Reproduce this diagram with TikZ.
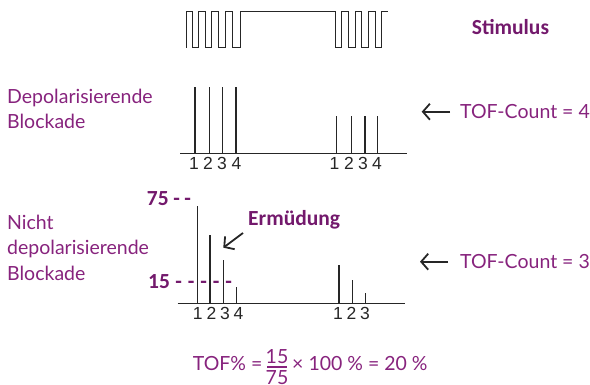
\documentclass[tikz,border=0pt]{standalone}
\usepackage{fontspec}
\setmainfont{Lato}
\newfontfamily\boldf{Carlito}
\newfontfamily\digitf{Liberation Sans}
\usetikzlibrary{arrows.meta}
\definecolor{purp}{RGB}{135,35,125}
\definecolor{dpurp}{RGB}{115,25,108}
\newcommand{\dsh}[1]{\hspace{#1}-}
\begin{document}
\begin{tikzpicture}[x=1pt,y=-1pt,
  bar/.style={line width=1.2pt, black!85},
  axis/.style={line width=1pt, black!85},
  wave/.style={line width=1pt, black!85, line join=miter},
  lbl/.style={text=purp, font=\fontsize{19.5}{24}\selectfont, inner sep=0pt, anchor=base west},
  blbl/.style={text=dpurp, font=\boldf\bfseries\fontsize{21.5}{26}\selectfont, inner sep=0pt, anchor=base west},
  num/.style={font=\digitf\fontsize{17.5}{20}\selectfont, inner sep=0pt, text=black!85, anchor=north},
  pointer/.style={-{Straight Barb[length=7pt,width=16pt,line width=1.8pt]}, line width=1.8pt, black!85}]
\useasboundingbox (0,0) rectangle (590,385);

% stimulus wave
\draw[wave] (186.7,48) -- (186.7,12) -- (192.7,12) -- (192.7,48) -- (198.3,48) -- (198.3,12) -- (205,12) -- (205,48) -- (211.7,48) -- (211.7,12) -- (218.3,12) -- (218.3,48) -- (225.7,48) -- (225.7,12) -- (232.7,12) -- (232.7,48) -- (240,48) -- (240,12) -- (335,12) -- (335,48) -- (341.7,48) -- (341.7,12) -- (348.3,12) -- (348.3,48) -- (355,48) -- (355,12) -- (361.7,12) -- (361.7,48) -- (368.3,48) -- (368.3,12) -- (375,12) -- (375,48) -- (381.7,48) -- (381.7,12) -- (388.3,12);
\node[blbl] (stim) at (471.7,34.3) {Stimulus};

% panel 1
\node[lbl] (dep1) at (7,104) {Depolarisierende};
\node[lbl] (blk1) at (7,129) {Blockade};
\draw[axis] (180,154) -- (406.7,154);
\foreach \x/\t in {195/86.7,209.3/86.7,222.7/86.7,236/86.7,336.7/115.7,351.7/115.7,365/115.7,377.7/115.7}
  \draw[bar] (\x,154) -- (\x,\t);
\foreach \x/\d [count=\i] in {194/1,208/2,222/3,236.5/4,334.5/1,349/2,363/3,377/4}
  \node[num] (pa\i) at (\x,157) {\d};
\node[lbl] (tof4) at (460,118.3) {TOF-Count = 4};
\coordinate (p1s) at (450,111.7);
\coordinate (p1t) at (421.7,111.7);
\draw[pointer] (p1s) -- (p1t);

% panel 2
\node[lbl] (nicht) at (7,230) {Nicht};
\node[lbl] (dep2) at (7,255) {depolarisierende};
\node[lbl] (blk2) at (7,280) {Blockade};
\draw[axis] (177.7,303.3) -- (405,303.3);
\foreach \x/\t in {197.7/206,210/235,223.3/260,236.7/287.3,339/265,352.3/280,365.7/293.3}
  \draw[bar] (\x,303.3) -- (\x,\t);
\foreach \x/\d [count=\i] in {197.7/1,211.5/2,225/3,238.5/4,338/1,351.5/2,365/3}
  \node[num] (pb\i) at (\x,307.5) {\d};
\node[blbl] (s75) at (146.7,206) {75\dsh{4.6pt}\dsh{4.6pt}};
\node[blbl] (s15) at (148,289) {15\dsh{5.5pt}\dsh{5.9pt}\dsh{5.9pt}\dsh{5.9pt}\dsh{5.9pt}};
\node[blbl] (erm) at (248,226) {Ermüdung};
\coordinate (e1s) at (243,233);
\coordinate (e1t) at (223.3,247.7);
\draw[pointer] (e1s) -- (e1t);
\node[lbl] (tof3) at (460,268.3) {TOF-Count = 3};
\coordinate (p2s) at (448,261.7);
\coordinate (p2t) at (420,261.7);
\draw[pointer] (p2s) -- (p2t);

% formula
\node[lbl] (f1) at (192.7,370.7) {TOF\% =};
\node[lbl, anchor=base] (num15) at (277,363.3) {15};
\node[lbl, anchor=north] (den75) at (277,370.5) {75};
\coordinate (fb1) at (267,367);
\coordinate (fb2) at (287,367);
\draw[purp, line width=1.2pt] (fb1) -- (fb2);
\node[lbl] (f2) at (292,370.7) {× 100 \% = 20 \%};
\end{tikzpicture}
\end{document}
